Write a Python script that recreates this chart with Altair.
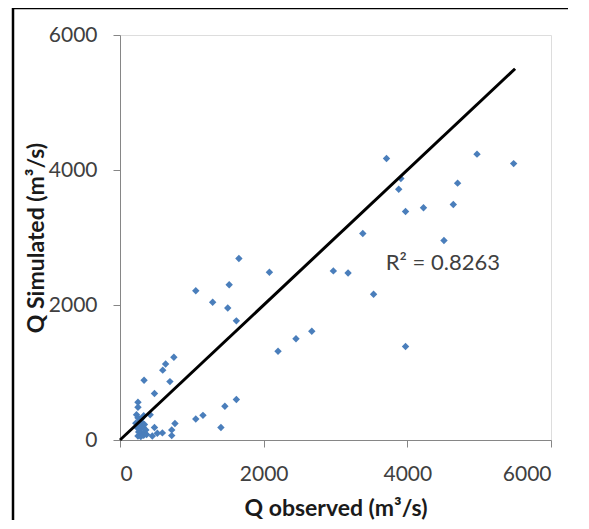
import altair as alt
import pandas as pd

obs = [3710, 4970, 5480, 3910, 3880, 4700, 4640, 4225, 3975, 3380, 4510,
       1655, 2080, 2970, 3175, 3530, 1055, 1520, 1290, 1500, 1620, 2670,
       2450, 2200, 3975, 750, 635, 595, 695, 335, 480, 1620, 1460, 1155,
       1055, 1405, 765, 720, 720, 590, 520, 480, 450, 420,
       250, 250, 230, 250, 300, 330, 280, 220, 260, 300, 340, 240, 280,
       320, 360, 260, 300, 340, 250, 290, 330, 370, 270]
sim = [4170, 4235, 4095, 3875, 3715, 3805, 3490, 3440, 3385, 3060, 2955,
       2690, 2485, 2505, 2475, 2160, 2210, 2300, 2040, 1955, 1765, 1610,
       1500, 1315, 1385, 1225, 1125, 1035, 865, 885, 690, 600, 500, 365,
       310, 185, 245, 150, 65, 105, 100, 185, 60, 375,
       560, 485, 375, 330, 320, 360, 290, 250, 240, 260, 230, 180, 160,
       190, 150, 120, 100, 110, 60, 50, 70, 80, 210]

trend_x = [0, 5500]
trend_y = [0, 5500]
r2_label = "R² = 0.8263"
r2_pos = (3700, 2620)
ticks = [0, 2000, 4000, 6000]

FONT = "Lato"

pts = pd.DataFrame({"obs": obs, "sim": sim})
trend = pd.DataFrame({"obs": trend_x, "sim": trend_y})
lab = pd.DataFrame({"obs": [r2_pos[0]], "sim": [r2_pos[1]], "t": [r2_label]})

xscale = alt.Scale(domain=[0, 6000], nice=False)
yscale = alt.Scale(domain=[0, 6000], nice=False)

xaxis = alt.Axis(values=ticks, format="d", title="Q observed (m³/s)", grid=False,
                 domainColor="#868686", tickColor="#868686", tickSize=7,
                 labelPadding=16, labelFontSize=21, labelColor="#404040",
                 labelFont=FONT, titleFont=FONT, titleFontSize=23,
                 titleFontWeight="bold", titleColor="#1a1a1a", titlePadding=13)
yaxis = alt.Axis(values=ticks, format="d", title="Q Simulated (m³/s)", grid=False,
                 domainColor="#868686", tickColor="#868686", tickSize=7,
                 labelPadding=16, labelFontSize=21, labelColor="#404040",
                 labelFont=FONT, titleFont=FONT, titleFontSize=23,
                 titleFontWeight="bold", titleColor="#1a1a1a", titlePadding=0)

points = alt.Chart(pts).mark_point(shape="diamond", filled=True, size=55,
                                   color="#4a7ebb", opacity=1).encode(
    x=alt.X("obs:Q", scale=xscale, axis=xaxis),
    y=alt.Y("sim:Q", scale=yscale, axis=yaxis),
)

line = alt.Chart(trend).mark_line(color="black", strokeWidth=3).encode(
    x=alt.X("obs:Q", scale=xscale),
    y=alt.Y("sim:Q", scale=yscale),
)

text = alt.Chart(lab).mark_text(align="left", baseline="middle", fontSize=22,
                                font=FONT, color="#404040").encode(
    x=alt.X("obs:Q", scale=xscale),
    y=alt.Y("sim:Q", scale=yscale),
    text="t:N",
)

one = pd.DataFrame({"a": [0]})
frame_left = alt.Chart(one).mark_rule(color="black", strokeWidth=2.5, clip=False).encode(
    x=alt.value(-107), y=alt.value(-28), y2=alt.value(486))
frame_top = alt.Chart(one).mark_rule(color="black", strokeWidth=2.5, clip=False).encode(
    x=alt.value(-108), x2=alt.value(448), y=alt.value(-27))

chart = alt.layer(points, line, text, frame_left, frame_top).properties(
    width=431, height=405,
    autosize=alt.AutoSizeParams(type="none"),
    padding={"left": 112, "top": 27, "right": 20, "bottom": 80},
).configure_view(stroke=None).configure(background="white")

chart.save("out.html", embed_options={"renderer": "svg", "actions": False})
